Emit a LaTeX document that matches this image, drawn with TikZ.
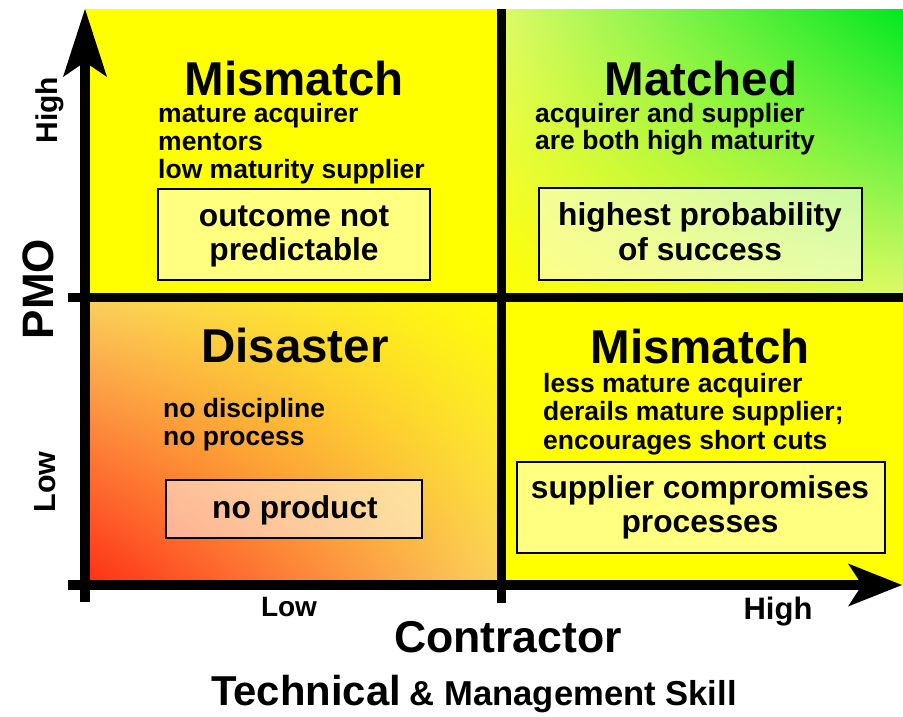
\documentclass[tikz,border=0pt]{standalone}
\usepackage{fontspec}
\setmainfont{Liberation Sans}
\usetikzlibrary{arrows.meta,shadings}
\definecolor{qyellow}{RGB}{255,255,0}
\definecolor{qgreen}{RGB}{0,232,30}
\definecolor{qgy}{RGB}{222,250,105}
\definecolor{qred}{RGB}{255,45,20}
\definecolor{qorange}{RGB}{250,208,95}
\begin{document}
\begin{tikzpicture}[x=1pt,y=-1pt,
  qtitle/.style={font=\bfseries\fontsize{47.5}{50}\selectfont, anchor=base, inner sep=0pt},
  subtxt/.style={font=\bfseries\fontsize{26.5}{28}\selectfont, anchor=base west, inner sep=0pt},
  boxtxt/.style={font=\bfseries\fontsize{31.7}{34}\selectfont, anchor=base, inner sep=0pt},
  outcome/.style={draw=black, line width=1.5pt, fill=white, fill opacity=0.5, inner sep=0pt},
  axisline/.style={line width=10.5pt},
  divider/.style={line width=9pt},
  axlabel/.style={font=\bfseries\fontsize{#1}{#1}\selectfont, inner sep=0pt, anchor=base},
]
\useasboundingbox[fill=white] (0,0) rectangle (903,716);

% quadrant fills
\fill[qyellow] (85,9) rectangle (501,297);
\shade[lower left=qyellow, upper right=qgreen, upper left=qgy, lower right=qgy] (501,9) rectangle (903,297);
\shade[lower left=qred, upper right=qyellow, upper left=qorange, lower right=qorange] (85,297) rectangle (501,585);
\fill[qyellow] (501,297) rectangle (903,585);

% outcome boxes
\node[outcome, minimum width=272pt, minimum height=91pt] (boxTL) at (294,234.5) {};
\node[outcome, minimum width=323pt, minimum height=92pt] (boxTR) at (700.5,234) {};
\node[outcome, minimum width=256pt, minimum height=58pt] (boxBL) at (294,509) {};
\node[outcome, minimum width=368pt, minimum height=91pt] (boxBR) at (701,507.5) {};

% coordinates for axes and dividers
\coordinate (yStart) at (85,602);
\coordinate (yEnd) at (85,9);
\coordinate (xStart) at (68,585);
\coordinate (xEnd) at (902,585);
\coordinate (vTop) at (501,9);
\coordinate (vBot) at (501,603);
\coordinate (hLeft) at (68,297);
\coordinate (hRight) at (903,297);

\draw[divider] (vTop) -- (vBot);
\draw[divider] (hLeft) -- (hRight);
\draw[axisline, -{Stealth[length=68pt, width=44pt, inset=15pt, line width=0pt]}] (yStart) -- (yEnd);
\draw[axisline, -{Stealth[length=54pt, width=43pt, inset=14pt, line width=0pt]}] (xStart) -- (xEnd);

% top left
\node[qtitle] (tTL) at (294,95) {Mismatch};
\node[subtxt] (tl1) at (158,122) {mature acquirer};
\node[subtxt] (tl2) at (158,150) {mentors};
\node[subtxt] (tl3) at (158,178) {low maturity supplier};
\node[boxtxt] (btl1) at (294,226) {outcome not};
\node[boxtxt] (btl2) at (294,260) {predictable};

% top right
\node[qtitle] (tTR) at (701,95) {Matched};
\node[subtxt] (tr1) at (535,122) {acquirer and supplier};
\node[subtxt] (tr2) at (535,149) {are both high maturity};
\node[boxtxt] (btr1) at (700,225) {highest probability};
\node[boxtxt] (btr2) at (700,260) {of success};

% bottom left
\node[qtitle] (tBL) at (295,362) {Disaster};
\node[subtxt] (bl1) at (163,417) {no discipline};
\node[subtxt] (bl2) at (163,445) {no process};
\node[boxtxt] (bbl1) at (295,518) {no product};

% bottom right
\node[qtitle] (tBR) at (700,363) {Mismatch};
\node[subtxt] (br1) at (543,392) {less mature acquirer};
\node[subtxt] (br2) at (543,420) {derails mature supplier;};
\node[subtxt] (br3) at (543,449) {encourages short cuts};
\node[boxtxt] (bbr1) at (700,498) {supplier compromises};
\node[boxtxt] (bbr2) at (700,532) {processes};

% axis labels
\node[axlabel=28] (xLow) at (289,616) {Low};
\node[axlabel=31] (xHigh) at (778,619) {High};
\node[axlabel=44.6] (xName) at (508,652) {Contractor};
\node[inner sep=0pt, anchor=base west, font=\bfseries] (xSub) at (211,705)
  {{\fontsize{41.8}{44}\selectfont Technical}\hspace{9pt}{\fontsize{34.6}{36}\selectfont \& Management Skill}};
\node[axlabel=30, rotate=90] (yHigh) at (57,110) {High};
\node[axlabel=44, rotate=90] (yName) at (53,289) {PMO};
\node[axlabel=30.5, rotate=90] (yLow) at (56,482) {Low};
\end{tikzpicture}
\end{document}
